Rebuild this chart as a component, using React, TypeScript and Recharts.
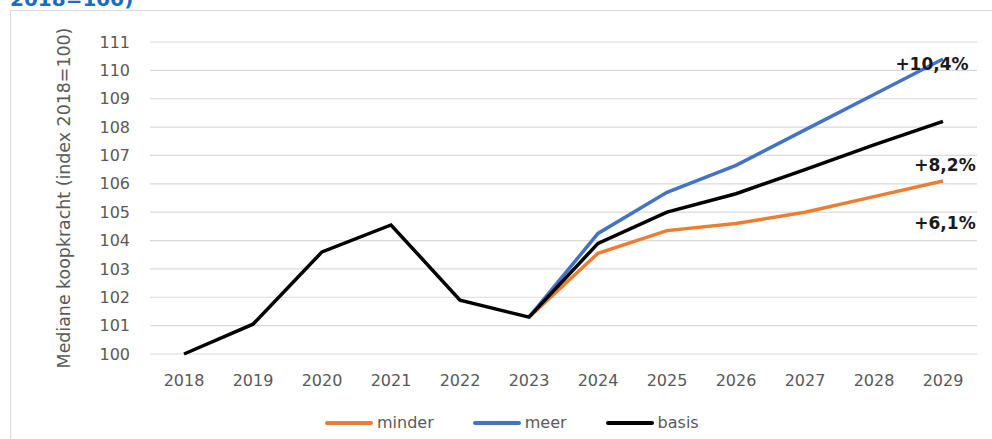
import { CartesianGrid, LabelList, Line, LineChart, XAxis, YAxis } from "recharts";

const years = ["2018", "2019", "2020", "2021", "2022", "2023", "2024", "2025", "2026", "2027", "2028", "2029"];
const basis = [100, 101.05, 103.6, 104.55, 101.9, 101.3, 103.9, 105.0, 105.65, 106.5, 107.37, 108.2];
const meer = [null, null, null, null, null, 101.3, 104.25, 105.7, 106.65, 107.9, 109.15, 110.4];
const minder = [null, null, null, null, null, 101.3, 103.55, 104.35, 104.6, 105.0, 105.55, 106.1];
const yTicks = [100, 101, 102, 103, 104, 105, 106, 107, 108, 109, 110, 111];
const endLabels = { minder: "+6,1%", meer: "+10,4%", basis: "+8,2%" };

const series = [
  { key: "minder", name: "minder", color: "#ED7D31" },
  { key: "meer", name: "meer", color: "#4472C4" },
  { key: "basis", name: "basis", color: "#000000" },
];

const data = years.map((year, i) => ({
  year,
  basis: basis[i],
  meer: meer[i],
  minder: minder[i],
}));

const FONT = "'DejaVu Sans', Verdana, sans-serif";
const GREY = "#595959";

// offset of each end label from the last point (label centre)
const labelOffset: Record<string, { dx: number; dy: number }> = {
  meer: { dx: -11, dy: 5 },
  basis: { dx: 2, dy: 44 },
  minder: { dx: 2, dy: 42 },
};

function endLabel(key: string) {
  return (props: any) => {
    const { x, y, index } = props;
    if (index !== years.length - 1 || x == null || y == null) return null;
    const off = labelOffset[key];
    return (
      <text
        x={x + off.dx}
        y={y + off.dy + 6}
        textAnchor="middle"
        fontFamily={FONT}
        fontWeight="bold"
        fontSize={17}
        fill="#1a1a1a"
      >
        {endLabels[key as keyof typeof endLabels]}
      </text>
    );
  };
}

function YLabel(props: any) {
  const vb = props.viewBox || {};
  const cx = 64;
  const cy = (vb.y ?? 42) + (vb.height ?? 312) / 2;
  return (
    <text
      x={cx}
      y={cy}
      transform={`rotate(-90, ${cx}, ${cy})`}
      textAnchor="middle"
      dominantBaseline="central"
      fontFamily={FONT}
      fontSize={17.4}
      fill={GREY}
    >
      Mediane koopkracht (index 2018=100)
    </text>
  );
}

export default function App() {
  return (
    <div
      style={{
        position: "absolute",
        left: 0,
        top: 0,
        width: 992,
        height: 439,
        overflow: "hidden",
        background: "#fff",
        fontFamily: FONT,
      }}
    >
      <div
        style={{
          position: "absolute",
          left: 10,
          top: -11,
          fontSize: 20,
          lineHeight: "20px",
          fontWeight: "bold",
          color: "#1a6dc2",
        }}
      >
        2018=100)
      </div>
      <div
        style={{
          position: "absolute",
          left: 10,
          top: 10,
          width: 1000,
          height: 460,
          border: "1px solid #d9d9d9",
        }}
      />
      <div style={{ position: "absolute", left: 0, top: 0 }}>
        <LineChart width={992} height={439} data={data} margin={{ top: 42, right: 15, left: 0, bottom: 0 }}>
          <CartesianGrid vertical={false} stroke="#d9d9d9" strokeWidth={1.2} />
          <XAxis
            dataKey="year"
            height={85}
            padding={{ left: 34, right: 34 }}
            tickLine={false}
            axisLine={false}
            tickSize={0}
            tickMargin={21}
            interval={0}
            tick={{ fill: GREY, fontSize: 16, fontFamily: FONT }}
          />
          <YAxis
            width={150}
            domain={[100, 111]}
            ticks={yTicks}
            interval={0}
            tickLine={false}
            axisLine={false}
            tickSize={0}
            tickMargin={20}
            tick={{ fill: GREY, fontSize: 16, fontFamily: FONT }}
            label={<YLabel />}
          />
          {series.map((s) => (
            <Line
              key={s.key}
              type="linear"
              dataKey={s.key}
              name={s.name}
              stroke={s.color}
              strokeWidth={3.5}
              dot={false}
              activeDot={false}
              isAnimationActive={false}
            >
              <LabelList dataKey={s.key} content={endLabel(s.key)} />
            </Line>
          ))}
        </LineChart>
      </div>
      <div
        style={{
          position: "absolute",
          left: 325,
          top: 412,
          display: "flex",
          alignItems: "center",
          gap: 39,
          fontSize: 16,
          color: GREY,
          lineHeight: "22px",
        }}
      >
        {series.map((s) => (
          <div key={s.key} style={{ display: "flex", alignItems: "center" }}>
            <span
              style={{
                display: "inline-block",
                width: 48,
                height: 4,
                borderRadius: 2,
                background: s.color,
                marginRight: 4,
              }}
            />
            <span>{s.name}</span>
          </div>
        ))}
      </div>
    </div>
  );
}
